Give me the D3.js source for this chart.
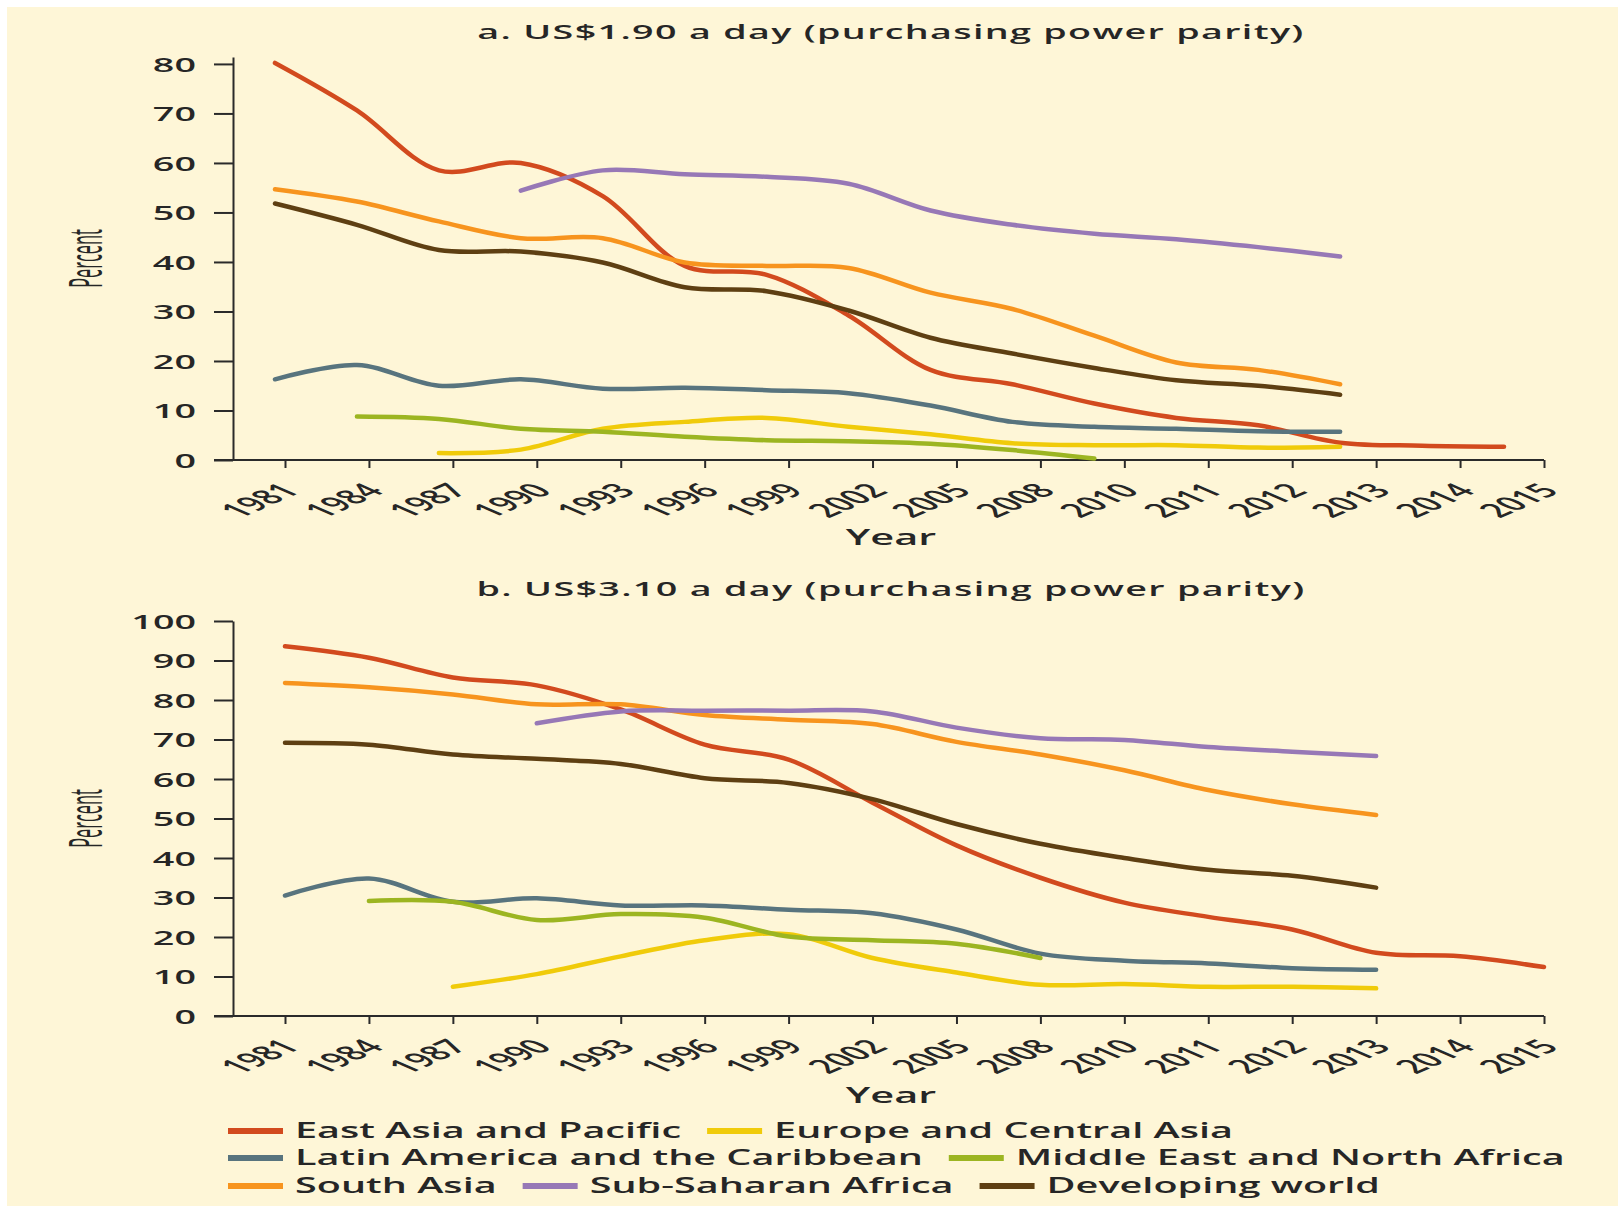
<!DOCTYPE html>
<html>
<head>
<meta charset="utf-8">
<script src="https://cdn.jsdelivr.net/npm/d3@7"></script>
<style>
  html, body { margin: 0; padding: 0; background: #fff; }
  svg { display: block; }
  text { font-family: "Open Sans", "Noto Sans", sans-serif; fill: #262626; }
</style>
</head>
<body>
<div id="chart"></div>
<script>
// years on the (categorical) x axis
const years = ['1981', '1984', '1987', '1990', '1993', '1996', '1999', '2002',
    '2005', '2008', '2010', '2011', '2012', '2013', '2014', '2015'];

const seriesNames = ['East Asia and Pacific', 'Europe and Central Asia',
    'Latin America and the Caribbean', 'Middle East and North Africa',
    'South Asia', 'Sub-Saharan Africa', 'Developing world'];
const seriesColors = ['#d24a1e', '#f0cb0a', '#58747e', '#9cb521', '#f7941e', '#9778b6', '#5e3f12'];

// a. US$1.90 a day, percent (null = no data)
const eapA  = [80.2, 70.6, 58.5, 60.0, 53.3, 39.2, 37.4, 29.2, 18.2, 15.3, 11.4, 8.5, 7.0, 3.5, 2.9, 2.7];
const ecaA  = [null, null, 1.4, 2.1, 6.3, 7.7, 8.5, 6.7, 5.2, 3.4, 3.0, 3.0, 2.5, 2.7, null, null];
const lacA  = [16.3, 19.2, 15.0, 16.3, 14.4, 14.6, 14.1, 13.5, 11.0, 7.7, 6.7, 6.3, 5.8, 5.7, null, null];
const menaA = [null, 8.8, 8.3, 6.3, 5.7, 4.7, 4.0, 3.8, 3.3, 2.0, 0.3, null, null, null, null, null];
const saA   = [54.7, 52.2, 48.2, 44.8, 44.8, 39.9, 39.2, 38.8, 33.8, 30.5, 25.1, 19.7, 18.2, 15.3, null, null];
const ssaA  = [null, null, null, 54.4, 58.5, 57.7, 57.2, 55.8, 50.4, 47.5, 45.7, 44.6, 43.0, 41.1, null, null];
const devA  = [51.8, 47.5, 42.4, 42.1, 39.9, 34.9, 34.1, 30.2, 24.7, 21.5, 18.6, 16.1, 15.0, 13.2, null, null];

// b. US$3.10 a day, percent
const eapB  = [93.6, 90.7, 85.7, 83.7, 77.6, 68.7, 64.9, 54.0, 43.2, 35.0, 28.7, 25.1, 21.9, 16.0, 15.1, 12.4];
const ecaB  = [null, null, 7.4, 10.6, 15.1, 19.2, 20.7, 14.7, 11.0, 7.9, 8.1, 7.4, 7.4, 7.0, null, null];
const lacB  = [30.5, 34.8, 28.9, 29.8, 28.0, 28.0, 26.9, 26.0, 21.9, 15.8, 14.0, 13.3, 12.1, 11.7, null, null];
const menaB = [null, 29.1, 28.9, 24.3, 25.8, 24.9, 20.1, 19.2, 18.3, 14.7, null, null, null, null, null, null];
const saB   = [84.3, 83.2, 81.4, 78.9, 78.9, 76.2, 75.0, 73.9, 69.4, 66.2, 62.2, 57.2, 53.6, 50.9, null, null];
const ssaB  = [null, null, null, 74.1, 77.1, 77.3, 77.3, 77.1, 73.0, 70.3, 69.9, 68.1, 66.9, 65.8, null, null];
const devB  = [69.2, 68.7, 66.2, 65.1, 63.8, 60.2, 59.0, 54.9, 48.6, 43.6, 40.0, 37.0, 35.5, 32.5, null, null];

const yTicksA = [0, 10, 20, 30, 40, 50, 60, 70, 80];
const yTicksB = [0, 10, 20, 30, 40, 50, 60, 70, 80, 90, 100];

const panels = [
    { title: 'a. US$1.90 a day (purchasing power parity)', series: [eapA, ecaA, lacA, menaA, saA, ssaA, devA],
      ticks: yTicksA, yMax: 81.4, top: 57, bottom: 460, lineRange: [275, 1504], titleY: 39, yearY: 545 },
    { title: 'b. US$3.10 a day (purchasing power parity)', series: [eapB, ecaB, lacB, menaB, saB, ssaB, devB],
      ticks: yTicksB, yMax: 100, top: 621, bottom: 1016, lineRange: [285, 1544], titleY: 596, yearY: 1103 }
];

const width = 1618, height = 1206;
const axisX = 233, tickLen = 19, xStart = 285, xEnd = 1544;
// the source picture is stretched sideways; text is squeezed then stretched to match
const STRETCH = 2.3, FW = 0.82;
const tf = (x, y, rot) => `translate(${x},${y}) scale(${STRETCH},1) rotate(${rot}) scale(${FW},1)`;

const svg = d3.select('#chart').append('svg')
    .attr('width', width)
    .attr('height', height);

svg.append('rect')
    .attr('x', 7).attr('y', 7)
    .attr('width', width - 7).attr('height', height - 7)
    .attr('fill', '#fef6d7');

const xAxisScale = d3.scalePoint().domain(years).range([xStart, xEnd]);

panels.forEach(p => {
    const g = svg.append('g');
    const y = d3.scaleLinear().domain([0, p.yMax]).range([p.bottom, p.top]);
    const xLine = d3.scalePoint().domain(years).range(p.lineRange);

    // y axis
    const yAxis = g.append('g')
        .attr('transform', `translate(${axisX},0)`)
        .call(d3.axisLeft(y).tickValues(p.ticks).tickSize(tickLen).tickSizeOuter(0));
    yAxis.selectAll('path, line').attr('stroke', '#2a2a2a').attr('stroke-width', 2);
    yAxis.selectAll('text')
        .attr('x', 0)
        .attr('dy', '0.36em')
        .attr('text-anchor', 'end')
        .attr('fill', '#262626')
        .attr('font-size', 20)
        .attr('font-weight', 600)
        .attr('transform', tf(-37, 0, 0));

    // x axis
    const xAxis = g.append('g')
        .attr('transform', `translate(0,${p.bottom})`)
        .call(d3.axisBottom(xAxisScale).tickSize(8).tickSizeOuter(0));
    xAxis.select('.domain').remove();
    xAxis.append('line')
        .attr('x1', axisX - tickLen).attr('x2', xEnd)
        .attr('stroke', '#2a2a2a').attr('stroke-width', 2);
    xAxis.selectAll('line').attr('stroke', '#2a2a2a').attr('stroke-width', 2);
    xAxis.selectAll('text')
        .attr('x', 0).attr('y', 0)
        .attr('dy', '0.71em')
        .attr('text-anchor', 'end')
        .attr('fill', '#262626')
        .attr('font-size', 20)
        .attr('font-weight', 600)
        .attr('transform', tf(-7, 22, -45));

    // lines
    const line = d3.line()
        .defined(d => d != null)
        .x((d, i) => xLine(years[i]))
        .y(d => y(d))
        .curve(d3.curveCatmullRom.alpha(0.5));

    g.append('g')
        .selectAll('path')
        .data(p.series)
        .join('path')
        .attr('d', d => line(d))
        .attr('fill', 'none')
        .attr('stroke', (d, i) => seriesColors[i])
        .attr('stroke-width', 4.5)
        .attr('stroke-linecap', 'round')
        .attr('stroke-linejoin', 'round');

    // titles
    g.append('text')
        .attr('text-anchor', 'middle')
        .attr('font-size', 20)
        .attr('font-weight', 600)
        .attr('letter-spacing', 0.7)
        .attr('transform', tf(891, p.titleY, 0))
        .text(p.title);

    g.append('text')
        .attr('text-anchor', 'middle')
        .attr('font-size', 22)
        .attr('font-weight', 600)
        .attr('transform', tf(891, p.yearY, 0))
        .text('Year');

    g.append('text')
        .attr('text-anchor', 'middle')
        .attr('font-size', 20)
        .attr('transform', tf(102, (p.top + p.bottom) / 2, -90))
        .text('Percent');
});

// legend, three rows
const legendRows = [[0, 1], [2, 3], [4, 5, 6]];
const legendRowY = [1131, 1158, 1186];
const legend = svg.append('g');
legendRows.forEach((row, r) => {
    let x = 228;
    row.forEach(k => {
        legend.append('line')
            .attr('x1', x).attr('x2', x + 55)
            .attr('y1', legendRowY[r]).attr('y2', legendRowY[r])
            .attr('stroke', seriesColors[k])
            .attr('stroke-width', 6);
        const t = legend.append('text')
            .attr('font-size', 21)
            .attr('font-weight', 600)
            .attr('transform', tf(x + 67, legendRowY[r] + 7, 0))
            .text(seriesNames[k]);
        x += 67 + t.node().getComputedTextLength() * STRETCH * FW + 26;
    });
});
</script>
</body>
</html>
